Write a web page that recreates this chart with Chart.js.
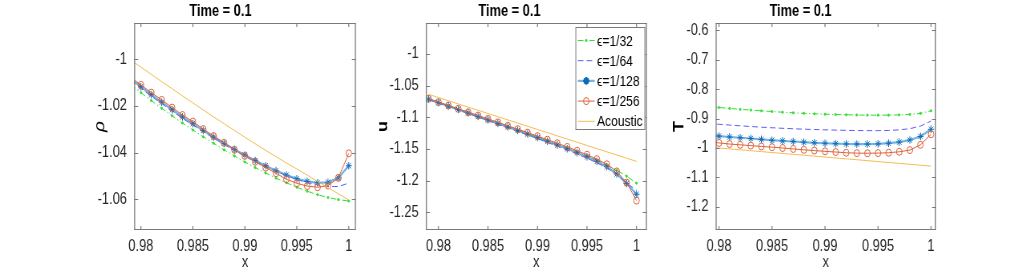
<!DOCTYPE html>
<html>
<head>
<meta charset="utf-8">
<script src="https://cdn.jsdelivr.net/npm/chart.js@4/dist/chart.umd.min.js"></script>
<style>
html, body { margin: 0; padding: 0; background: #fff; }
body { width: 1035px; height: 273px; position: relative; overflow: hidden; }
.panel { position: absolute; top: 0; height: 273px; transform-origin: 0 0; }
</style>
</head>
<body>
<div class="panel" id="p1"><canvas id="c1"></canvas></div>
<div class="panel" id="p2"><canvas id="c2"></canvas></div>
<div class="panel" id="p3"><canvas id="c3"></canvas></div>

<script>
// ===============================
// DATA
// ===============================
const xs = [0.979, 0.980, 0.981, 0.982, 0.983, 0.984, 0.985, 0.986, 0.987, 0.988, 0.989,
            0.990, 0.991, 0.992, 0.993, 0.994, 0.995, 0.996, 0.997, 0.998, 0.999, 1.000];

const seriesNames = ['ϵ=1/32', 'ϵ=1/64', 'ϵ=1/128', 'ϵ=1/256', 'Acoustic'];

// density
const rho32  = [-1.0109, -1.0143, -1.0177, -1.0210, -1.0242, -1.0273, -1.0303, -1.0332, -1.0360, -1.0388, -1.0414,
                -1.0440, -1.0464, -1.0487, -1.0509, -1.0529, -1.0548, -1.0565, -1.0580, -1.0592, -1.0601, -1.0607];
const rho64  = [-1.0092, -1.0125, -1.0158, -1.0190, -1.0222, -1.0253, -1.0282, -1.0310, -1.0338, -1.0365, -1.0391,
                -1.0415, -1.0438, -1.0460, -1.0480, -1.0498, -1.0515, -1.0528, -1.0538, -1.0545, -1.0545, -1.0530];
const rho128 = [-1.0084, -1.0118, -1.0152, -1.0184, -1.0216, -1.0247, -1.0276, -1.0305, -1.0333, -1.0360, -1.0386,
                -1.0410, -1.0434, -1.0456, -1.0477, -1.0496, -1.0512, -1.0523, -1.0529, -1.0527, -1.0508, -1.0456];
const rho256 = [-1.0077, -1.0110, -1.0143, -1.0174, -1.0207, -1.0239, -1.0267, -1.0299, -1.0329, -1.0358, -1.0388,
                -1.0414, -1.0439, -1.0464, -1.0488, -1.0514, -1.0531, -1.0543, -1.0548, -1.0541, -1.0508, -1.0403];
const rhoAc  = [-1.0003, -1.0034, -1.0065, -1.0096, -1.0126, -1.0157, -1.0187, -1.0217, -1.0247, -1.0276, -1.0305,
                -1.0334, -1.0362, -1.0390, -1.0417, -1.0444, -1.0470, -1.0496, -1.0523, -1.0550, -1.0576, -1.0602];

// velocity
const u32  = [-1.0715, -1.0770, -1.0824, -1.0879, -1.0933, -1.0988, -1.1042, -1.1097, -1.1152, -1.1207, -1.1262,
              -1.1318, -1.1374, -1.1431, -1.1489, -1.1549, -1.1611, -1.1677, -1.1750, -1.1835, -1.1930, -1.2040];
const u64  = [-1.0718, -1.0774, -1.0829, -1.0885, -1.0940, -1.0996, -1.1052, -1.1108, -1.1165, -1.1222, -1.1279,
              -1.1337, -1.1396, -1.1456, -1.1517, -1.1580, -1.1646, -1.1718, -1.1800, -1.1905, -1.2045, -1.2147];
const u128 = [-1.0712, -1.0767, -1.0821, -1.0876, -1.0930, -1.0985, -1.1040, -1.1095, -1.1151, -1.1207, -1.1263,
              -1.1320, -1.1378, -1.1437, -1.1497, -1.1559, -1.1624, -1.1696, -1.1780, -1.1895, -1.2045, -1.2215];
const u256 = [-1.0707, -1.0760, -1.0813, -1.0866, -1.0919, -1.0972, -1.1025, -1.1079, -1.1133, -1.1187, -1.1242,
              -1.1297, -1.1353, -1.1410, -1.1468, -1.1528, -1.1591, -1.1661, -1.1742, -1.1854, -1.2032, -1.2316];
const uAc  = [-1.0637, -1.0687, -1.0738, -1.0788, -1.0839, -1.0889, -1.0940, -1.0990, -1.1040, -1.1091, -1.1141,
              -1.1192, -1.1242, -1.1293, -1.1343, -1.1394, -1.1444, -1.1494, -1.1545, -1.1595, -1.1646, -1.1696];

// temperature
const T32  = [-0.8610, -0.8625, -0.8655, -0.8685, -0.8712, -0.8738, -0.8762, -0.8784, -0.8804, -0.8822, -0.8838,
              -0.8852, -0.8863, -0.8872, -0.8879, -0.8884, -0.8886, -0.8884, -0.8876, -0.8858, -0.8825, -0.8735];
const T64  = [-0.9180, -0.9195, -0.9222, -0.9248, -0.9272, -0.9294, -0.9314, -0.9332, -0.9348, -0.9362, -0.9374,
              -0.9384, -0.9394, -0.9402, -0.9408, -0.9412, -0.9412, -0.9405, -0.9385, -0.9345, -0.9260, -0.9085];
const T128 = [-0.9570, -0.9598, -0.9628, -0.9654, -0.9680, -0.9710, -0.9740, -0.9762, -0.9782, -0.9805, -0.9826,
              -0.9842, -0.9856, -0.9866, -0.9870, -0.9870, -0.9862, -0.9840, -0.9800, -0.9730, -0.9610, -0.9365];
const T256 = [-0.9800, -0.9830, -0.9868, -0.9895, -0.9922, -0.9950, -0.9975, -1.0003, -1.0035, -1.0065, -1.0092,
              -1.0116, -1.0140, -1.0165, -1.0178, -1.0182, -1.0176, -1.0164, -1.0132, -1.0075, -0.9895, -0.9536];
const TAc  = [-0.9972, -1.0003, -1.0034, -1.0064, -1.0095, -1.0126, -1.0157, -1.0188, -1.0218, -1.0249, -1.0280,
              -1.0311, -1.0342, -1.0372, -1.0403, -1.0434, -1.0465, -1.0496, -1.0526, -1.0557, -1.0588, -1.0619];

// tick labels
const xTicks   = [0.98, 0.985, 0.99, 0.995, 1];
const rhoTicks = [-1.06, -1.04, -1.02, -1];
const uTicks   = [-1.25, -1.2, -1.15, -1.1, -1.05, -1];
const TTicks   = [-1.2, -1.1, -1, -0.9, -0.8, -0.7, -0.6];

// ===============================
// LOOK
// ===============================
const SQ = 0.8;                 // figure is squeezed horizontally
const FONT = "'Liberation Sans', Arial, sans-serif";
const AXIS_GREY = '#7a7a7a';
const TEXT_COL = '#262626';

const styles = [
    { color: '#33dd33', width: 1, dash: [7, 3, 1.5, 3], point: 'circle', radius: 1.1, fill: '#33dd33' },
    { color: '#5c5cff', width: 1, dash: [7, 4], point: false, radius: 0, fill: '#5c5cff' },
    { color: 'rgba(60,145,215,0.7)', width: 2.2, dash: [], point: 'star', radius: 3.8, pointColor: '#0a6cb8' },
    { color: '#e0603a', width: 1, dash: [], point: 'circle', radius: 3.5, pointColor: '#e0603a', fill: 'rgba(0,0,0,0)' },
    { color: '#f2bd55', width: 1, dash: [], point: false, radius: 0 }
];

function fmt(v) {
    return String(+Number(v).toFixed(4));
}

function buildDatasets(series) {
    return series.map((arr, k) => {
        const s = styles[k];
        return {
            label: seriesNames[k],
            data: xs.map((x, i) => ({ x: x, y: arr[i] })),
            borderColor: s.color,
            borderWidth: s.width,
            borderDash: s.dash,
            pointStyle: s.point,
            pointRadius: s.radius,
            pointBorderColor: s.pointColor || s.color,
            pointBackgroundColor: s.fill || 'rgba(0,0,0,0)',
            pointBorderWidth: 1,
            tension: 0,
            fill: false,
            clip: 0,
            order: 5 - k
        };
    });
}

// box + inward ticks, like the original axes
const boxPlugin = {
    id: 'boxPlugin',
    afterDraw(chart) {
        const { ctx, chartArea: a, scales } = chart;
        ctx.save();
        ctx.strokeStyle = AXIS_GREY;
        ctx.lineWidth = 1;
        ctx.beginPath();
        ctx.moveTo(a.left, a.top + 0.5); ctx.lineTo(a.right, a.top + 0.5);
        ctx.moveTo(a.left, a.bottom - 0.5); ctx.lineTo(a.right, a.bottom - 0.5);
        ctx.stroke();
        ctx.lineWidth = 1.3;
        ctx.beginPath();
        ctx.moveTo(a.left + 0.6, a.top); ctx.lineTo(a.left + 0.6, a.bottom);
        ctx.moveTo(a.right - 0.6, a.top); ctx.lineTo(a.right - 0.6, a.bottom);
        ctx.stroke();
        const tl = 4;
        ctx.lineWidth = 1.2;
        ctx.beginPath();
        scales.x.ticks.forEach(t => {
            const px = scales.x.getPixelForValue(t.value);
            ctx.moveTo(px, a.bottom); ctx.lineTo(px, a.bottom - tl);
            ctx.moveTo(px, a.top); ctx.lineTo(px, a.top + tl);
        });
        ctx.stroke();
        ctx.lineWidth = 1;
        ctx.beginPath();
        scales.y.ticks.forEach(t => {
            const py = Math.round(scales.y.getPixelForValue(t.value)) + 0.5;
            ctx.moveTo(a.left, py); ctx.lineTo(a.left + tl / SQ, py);
            ctx.moveTo(a.right, py); ctx.lineTo(a.right - tl / SQ, py);
        });
        ctx.stroke();
        ctx.restore();
    }
};

// legend drawn inside the middle panel
const legendPlugin = {
    id: 'legendPlugin',
    afterDraw(chart) {
        const { ctx, chartArea: a } = chart;
        const x0 = a.right - 89, x1 = a.right - 2;
        const y0 = 27, y1 = 130;
        ctx.save();
        ctx.fillStyle = '#fff';
        ctx.fillRect(x0, y0, x1 - x0, y1 - y0);
        ctx.strokeStyle = AXIS_GREY;
        ctx.lineWidth = 1;
        ctx.strokeRect(x0 + 0.5, y0 + 0.5, x1 - x0 - 1, y1 - y0 - 1);
        ctx.font = '15px ' + FONT;
        ctx.textBaseline = 'middle';
        ctx.textAlign = 'left';
        seriesNames.forEach((name, k) => {
            const s = styles[k];
            const y = 40.5 + k * 20.2;
            const lx0 = x0 + 3, lx1 = x0 + 24;
            ctx.strokeStyle = s.color;
            ctx.lineWidth = s.width;
            ctx.setLineDash(s.dash);
            ctx.beginPath();
            ctx.moveTo(lx0, y); ctx.lineTo(lx1, y);
            ctx.stroke();
            ctx.setLineDash([]);
            if (s.point) {
                ctx.strokeStyle = s.pointColor || s.color;
                ctx.fillStyle = s.fill || 'rgba(0,0,0,0)';
                Chart.helpers.drawPoint(ctx, {
                    pointStyle: s.point, radius: s.radius, rotation: 0, borderWidth: 1
                }, (lx0 + lx1) / 2, y);
            }
            ctx.fillStyle = '#000';
            ctx.fillText(name, x0 + 27, y + 1);
        });
        ctx.restore();
    }
};

// ===============================
// PANEL FACTORY
// ===============================
function makePanel(p) {
    const wrap = document.getElementById(p.wrap);
    const cw = (p.right - p.left) / SQ;
    wrap.style.left = p.left + 'px';
    wrap.style.width = cw + 'px';
    wrap.style.transform = 'scaleX(' + SQ + ')';

    const areaLeft = (p.plotLeft - p.left) / SQ;
    const areaRight = (p.plotRight - p.left) / SQ;
    const tickFont = { family: FONT, size: 16 };

    return new Chart(document.getElementById(p.canvas), {
        type: 'line',
        data: { datasets: buildDatasets(p.series) },
        options: {
            responsive: true,
            maintainAspectRatio: false,
            animation: false,
            devicePixelRatio: 1,
            layout: { padding: { left: 0, right: cw - areaRight, top: 0, bottom: 0 } },
            plugins: {
                legend: { display: false },
                tooltip: { enabled: false },
                title: {
                    display: true,
                    text: 'Time = 0.1',
                    color: '#000',
                    font: { family: FONT, size: 16, weight: 'bold' },
                    padding: { top: 2, bottom: 1.8 }
                }
            },
            scales: {
                x: {
                    type: 'linear',
                    min: p.xMin, max: p.xMax,
                    grid: { display: false, drawTicks: false },
                    border: { display: false },
                    afterFit: s => { s.height = 43; },
                    afterBuildTicks: s => { s.ticks = xTicks.map(v => ({ value: v })); },
                    ticks: { padding: 7, font: tickFont, color: TEXT_COL, maxRotation: 0, autoSkip: false, callback: fmt },
                    title: { display: true, text: 'x', color: TEXT_COL, font: tickFont, padding: { top: 0, bottom: 1 } }
                },
                y: {
                    type: 'linear',
                    min: p.yMin, max: p.yMax,
                    grid: { display: false, drawTicks: false },
                    border: { display: false },
                    afterFit: s => { s.width = areaLeft; },
                    afterBuildTicks: s => { s.ticks = p.yTicks.map(v => ({ value: v })); },
                    ticks: { padding: 9, font: tickFont, color: TEXT_COL, autoSkip: false, callback: fmt },
                    title: { display: true, text: p.yLabel, color: '#000', font: p.yFont, padding: { top: p.yTitlePad } }
                }
            }
        },
        plugins: p.legend ? [boxPlugin, legendPlugin] : [boxPlugin]
    });
}

makePanel({
    wrap: 'p1', canvas: 'c1', left: 85, right: 360, plotLeft: 134, plotRight: 355,
    xMin: 0.97935, xMax: 1.00068, yMin: -1.0731, yMax: -0.9845, yTicks: rhoTicks,
    yLabel: 'ρ', yFont: { family: FONT, size: 19, style: 'italic' }, yTitlePad: 7,
    series: [rho32, rho64, rho128, rho256, rhoAc]
});

makePanel({
    wrap: 'p2', canvas: 'c2', left: 372, right: 655, plotLeft: 425.7, plotRight: 646,
    xMin: 0.97873, xMax: 1.00104, yMin: -1.278, yMax: -0.951, yTicks: uTicks,
    yLabel: 'u', yFont: { family: FONT, size: 18, weight: 'bold' }, yTitlePad: 3,
    series: [u32, u64, u128, u256, uAc], legend: true
});

makePanel({
    wrap: 'p3', canvas: 'c3', left: 665, right: 950, plotLeft: 715.7, plotRight: 936,
    xMin: 0.97969, xMax: 1.00047, yMin: -1.2795, yMax: -0.5747, yTicks: TTicks,
    yLabel: 'T', yFont: { family: FONT, size: 18, weight: 'bold' }, yTitlePad: 7,
    series: [T32, T64, T128, T256, TAc]
});
</script>
</body>
</html>
